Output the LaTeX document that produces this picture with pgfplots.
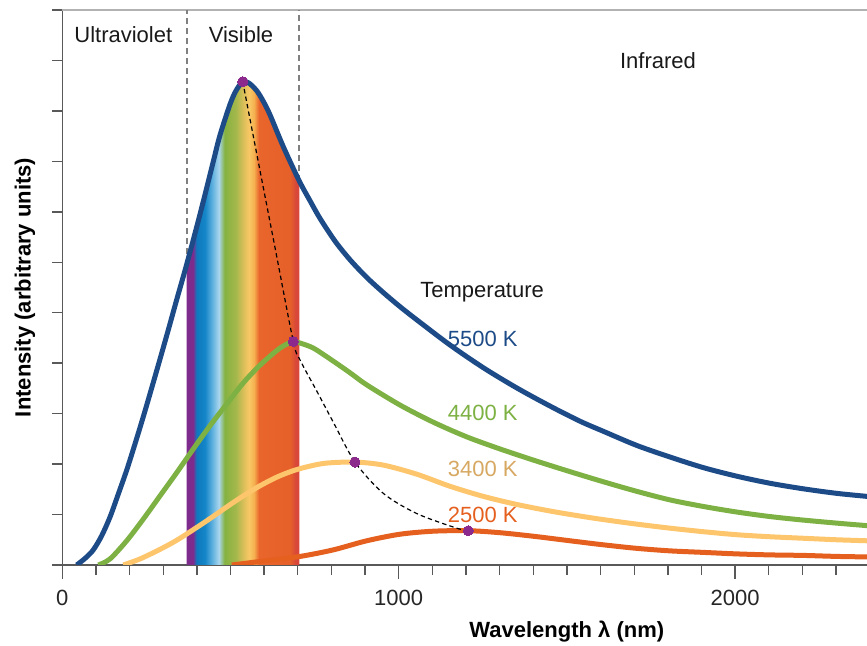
\documentclass[border=0pt]{standalone}
\usepackage{fontspec}
\setmainfont{Liberation Sans}
\usepackage{pgfplots}
\usepackage{pgfplotstable}
\pgfplotsset{compat=1.18}

% curve colours
\definecolor{cBlue}{HTML}{1D4B87}
\definecolor{cGreen}{HTML}{7DB143}
\definecolor{cYellow}{HTML}{FDC66D}
\definecolor{cOrange}{HTML}{E5601F}
\definecolor{cPurple}{HTML}{8B2A8C}
\definecolor{cTan}{HTML}{D6A862}
% colours of the visible band
\definecolor{spPurple}{HTML}{7E2B8E}
\definecolor{spBlue}{HTML}{0F78BE}
\definecolor{spBlueB}{HTML}{1486C8}
\definecolor{spBlueC}{HTML}{5AAEDD}
\definecolor{spLight}{HTML}{A9D6EE}
\definecolor{spGreen}{HTML}{84B240}
\definecolor{spGreenB}{HTML}{A5B84C}
\definecolor{spYelGr}{HTML}{D8BE58}
\definecolor{spYellow}{HTML}{F9C866}
\definecolor{spYelOr}{HTML}{F5B050}
\definecolor{spOrange}{HTML}{E8652B}
\definecolor{spOrangeB}{HTML}{E6602A}
\definecolor{spRed}{HTML}{D8473A}

% left to right across the visible band (25bp .. 75bp span the band)
\pgfdeclarehorizontalshading{visband}{100bp}{%
  color(0bp)=(spPurple); color(25bp)=(spPurple); color(27.8bp)=(spPurple);
  color(29.4bp)=(spBlue); color(33.1bp)=(spBlueB); color(36.2bp)=(spBlueC);
  color(39.3bp)=(spLight); color(41.8bp)=(spGreen); color(46.9bp)=(spGreenB);
  color(50bp)=(spYelGr); color(52.7bp)=(spYellow); color(54.9bp)=(spYelOr);
  color(57.1bp)=(spOrange); color(70.9bp)=(spOrangeB); color(73.5bp)=(spRed);
  color(75bp)=(spRed); color(100bp)=(spRed)}

% wavelength (nm) and intensity (arbitrary units)
\pgfplotstableread{
x y
42.8 0
67.5 0.13
92.2 0.30
117.1 0.58
141.8 0.95
165.6 1.39
191.4 1.88
216.1 2.40
240.8 2.94
265.8 3.51
290.4 4.08
315.1 4.66
340.1 5.26
369.8 5.96
409.3 6.95
448.9 8.00
468.8 8.52
498.5 9.13
516.3 9.40
536.3 9.58
555.0 9.55
577.9 9.40
596.6 9.20
617.5 8.92
657.0 8.29
704.5 7.61
736.3 7.22
766.0 6.87
810.6 6.42
855.2 6.05
904.9 5.70
954.2 5.40
1003.9 5.12
1053.5 4.86
1152.5 4.36
1251.5 3.91
1350.8 3.51
1449.8 3.15
1538.9 2.85
1608.2 2.65
1707.5 2.37
1806.5 2.14
1905.5 1.93
2004.8 1.76
2103.7 1.62
2202.7 1.51
2302.0 1.42
2392.0 1.36
}\tblBlue

\pgfplotstableread{
x y
369.8 5.96
409.3 6.95
448.9 8.00
468.8 8.52
498.5 9.13
516.3 9.40
536.3 9.58
555.0 9.55
577.9 9.40
596.6 9.20
617.5 8.92
657.0 8.29
704.5 7.61
}\tblBand

\pgfplotstableread{
x y
107.0 0
141.8 0.12
191.4 0.48
240.8 0.91
290.4 1.37
340.1 1.83
389.4 2.30
439.0 2.76
488.7 3.19
538.0 3.61
587.7 3.96
637.3 4.25
662.0 4.36
686.7 4.43
706.6 4.40
736.3 4.33
756.2 4.26
805.6 4.04
855.2 3.81
904.9 3.57
1003.9 3.17
1102.9 2.83
1202.1 2.54
1301.1 2.30
1400.0 2.08
1509.2 1.85
1608.2 1.65
1707.5 1.46
1806.5 1.29
1905.5 1.16
2004.8 1.05
2103.7 0.96
2202.7 0.89
2302.0 0.83
2392.0 0.78
}\tblGreen

\pgfplotstableread{
x y
181.3 0
231.0 0.12
290.4 0.31
340.1 0.49
389.4 0.70
439.0 0.92
488.7 1.15
538.0 1.37
587.7 1.57
637.3 1.74
686.7 1.87
736.3 1.96
786.0 2.02
870.0 2.04
954.2 1.98
1053.5 1.80
1152.5 1.56
1251.5 1.36
1350.8 1.20
1449.8 1.07
1538.9 0.97
1608.2 0.90
1707.5 0.81
1806.5 0.73
1905.5 0.66
2004.8 0.60
2103.7 0.56
2202.7 0.53
2302.0 0.50
2392.0 0.48
}\tblYellow

\pgfplotstableread{
x y
503.6 0
587.7 0.07
706.6 0.17
805.6 0.30
904.9 0.48
1003.9 0.61
1102.9 0.67
1206.9 0.68
1301.1 0.64
1400.0 0.57
1509.2 0.48
1608.2 0.40
1707.5 0.33
1806.5 0.28
1905.5 0.25
2004.8 0.22
2103.7 0.20
2202.7 0.19
2302.0 0.17
2392.0 0.16
}\tblOrange

% locus of the peaks
\pgfplotstableread{
x y
536.3 9.58
580.0 8.08
630.0 6.37
686.7 4.43
707.0 4.06
756.2 3.45
805.6 2.83
870.0 2.04
954.2 1.42
1053.5 1.02
1172.4 0.73
1206.9 0.68
}\tblPeakLocus

\begin{document}
\fontsize{11bp}{13.2bp}\selectfont
\begin{tikzpicture}[font=\fontsize{11bp}{13.2bp}\selectfont]
\begin{axis}[
  scale only axis,
  width=402.35bp, height=277.5bp,
  xmin=0, xmax=2392, ymin=0, ymax=11,
  axis lines*=left,
  axis line style={black!65, line width=0.75bp},
  clip mode=individual,
  tick align=outside,
  major tick length=7bp, minor tick length=5bp,
  tick style={black!65, line width=0.7bp},
  xtick={0,1000,2000}, xticklabels={0,1000,2000},
  minor xtick={100,200,300,400,500,600,700,800,900,1100,1200,1300,1400,1500,1600,1700,1800,1900,2100,2200,2300},
  ytick={20}, yticklabels={},
  minor ytick={0,1,2,3,4,5,6,7,8,9,10,11},
  /pgf/number format/assume math mode=true,
  xticklabel style={font=\fontsize{11bp}{13.2bp}\selectfont, text=black!85, inner sep=0pt, anchor=north, yshift=-5.5bp},
  xlabel={Wavelength λ (nm)},
  ylabel={Intensity (arbitrary units)},
  every axis x label/.style={at={(axis description cs:0.627,-0.1207)}, anchor=center,
    font=\bfseries\fontsize{11bp}{13.2bp}\selectfont},
  every axis y label/.style={at={(axis description cs:-0.0464,0.5)}, rotate=90, anchor=center,
    font=\bfseries\fontsize{11bp}{13.2bp}\selectfont},
]
% frame line along the top
\draw[black!30, line width=0.75bp] (rel axis cs:0,1) -- (rel axis cs:1,1);

% visible band under the 5500 K curve
\addplot[draw=none, shade, shading=visband, smooth] table {\tblBand} \closedcycle;

% boundaries of the visible range
\addplot[black!50, line width=1bp, dash pattern=on 3bp off 2bp] coordinates {(369.8,5.96) (369.8,11)};
\addplot[black!50, line width=1bp, dash pattern=on 3bp off 2bp] coordinates {(704.5,7.61) (704.5,11)};

% blackbody curves
\addplot[cOrange, line width=2.5bp, smooth] table {\tblOrange};
\addplot[cYellow, line width=2.5bp, smooth] table {\tblYellow};
\addplot[cGreen, line width=2.5bp, smooth] table {\tblGreen};
\addplot[cBlue, line width=2.5bp, smooth] table {\tblBlue};

% peak locus and peaks
\addplot[black, line width=0.6bp, dash pattern=on 2.2bp off 1.6bp, smooth] table {\tblPeakLocus};
\addplot[only marks, color=cPurple, mark=*, mark size=2.5bp, mark options={solid, fill=cPurple, draw=cPurple, line width=0pt}]
  coordinates {(536.3,9.58) (686.7,4.43) (870.0,2.04) (1206.9,0.68)};

% region and curve labels
\node[text=black!90] at (axis cs:181.4,10.505) {Ultraviolet};
\node[text=black!90] at (axis cs:531.2,10.505) {Visible};
\node[text=black!90] at (axis cs:1770.8,10.0) {Infrared};
\node[text=black!90] at (axis cs:1248,5.41) {Temperature};
\node[text=cBlue] at (axis cs:1250,4.49) {5500 K};
\node[text=cGreen] at (axis cs:1250,3.007) {4400 K};
\node[text=cTan] at (axis cs:1250,1.903) {3400 K};
\node[text=cOrange] at (axis cs:1250,0.991) {2500 K};
\end{axis}
\pgfresetboundingbox
\path[use as bounding box] (-31.15bp,-40.5bp) rectangle (402.35bp,282.5bp);
\end{tikzpicture}
\end{document}
